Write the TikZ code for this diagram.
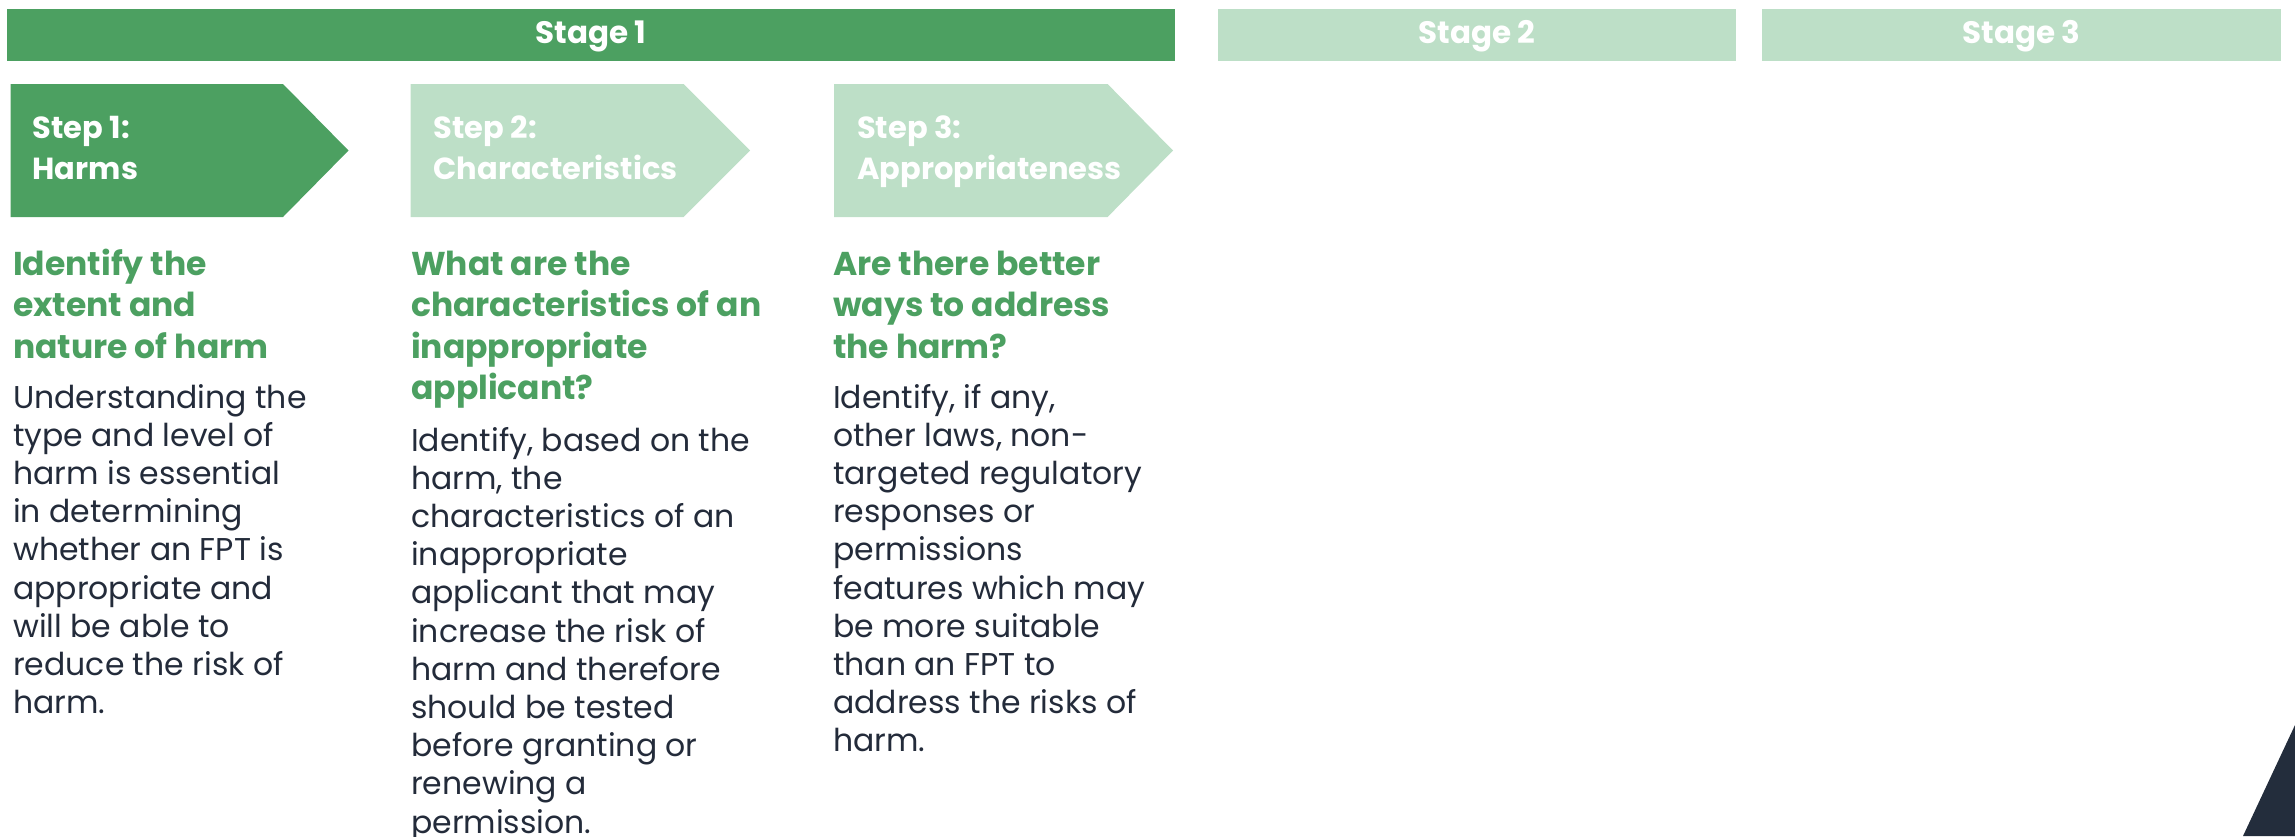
\documentclass[tikz,border=0pt]{standalone}
\usepackage{fontspec}
\setmainfont{Poppins}
\definecolor{dgreen}{HTML}{4CA061}
\definecolor{lgreen}{HTML}{BDDFC7}
\definecolor{ink}{HTML}{232B3A}
\definecolor{navy}{HTML}{232D3C}
\begin{document}
\begin{tikzpicture}[x=1pt,y=-1pt,
  bar/.style={rectangle,inner sep=0pt,draw=none,minimum height=52pt},
  bartext/.style={anchor=base,text=white,inner sep=0pt,font=\fontsize{31}{36}\selectfont\bfseries},
  steptext/.style={anchor=base west,text=white,inner sep=0pt,align=left,font=\fontsize{30.5}{41}\selectfont\bfseries},
  headtext/.style={anchor=base west,text=dgreen,inner sep=0pt,align=left,font=\fontsize{33}{41.5}\selectfont\bfseries},
  bodytext/.style={anchor=base west,text=ink,inner sep=0pt,align=left,font=\fontsize{31.5}{38.2}\selectfont}]
\useasboundingbox (0,0) rectangle (2295,836);
% stage bars
\node[bar,fill=dgreen,minimum width=1168pt] (s1) at (591,34.5) {};
\node[bar,fill=lgreen,minimum width=518pt] (s2) at (1477,34.5) {};
\node[bar,fill=lgreen,minimum width=519pt] (s3) at (2021.5,34.5) {};
\node[bartext] (s1t) at (591,43) {Stage 1};
\node[bartext] (s2t) at (1477,43) {Stage 2};
\node[bartext] (s3t) at (2021.5,43) {Stage 3};
% step arrows
\fill[dgreen] (10.7,84) -- (283,84) -- (348.5,150.5) -- (283,217) -- (10.7,217) -- cycle;
\fill[lgreen] (410.7,84) -- (683.5,84) -- (750,150.5) -- (683.5,217) -- (410.7,217) -- cycle;
\fill[lgreen] (834,84) -- (1107.6,84) -- (1173,150.5) -- (1107.6,217) -- (834,217) -- cycle;
% multi-line nodes are anchored at the baseline of their last line
\node[steptext] (t1) at (32.5,179) {Step 1:\\Harms};
\node[steptext] (t2) at (433.5,179) {Step 2:\\Characteristics};
\node[steptext] (t3) at (857,179) {Step 3:\\Appropriateness};
% headings
\node[headtext] (h1) at (13,358) {Identify the\\extent and\\nature of harm};
\node[headtext] (h2) at (411,399.5) {What are the\\characteristics of an\\inappropriate\\applicant?};
\node[headtext] (h3) at (833,358) {Are there better\\ways to address\\the harm?};
% body
\node[bodytext] (b1) at (13,713.6) {Understanding the\\type and level of\\harm is essential\\in determining\\whether an FPT is\\appropriate and\\will be able to\\reduce the risk of\\harm.};
\node[bodytext] (b2) at (411,833) {Identify, based on the\\harm, the\\characteristics of an\\inappropriate\\applicant that may\\increase the risk of\\harm and therefore\\should be tested\\before granting or\\renewing a\\permission.};
\node[bodytext] (b3) at (833,751.8) {Identify, if any,\\other laws, non-\\targeted regulatory\\responses or\\permissions\\features which may\\be more suitable\\than an FPT to\\address the risks of\\harm.};
% corner triangle
\fill[navy] (2243,836) -- (2295,725) -- (2295,836) -- cycle;
\end{tikzpicture}
\end{document}
